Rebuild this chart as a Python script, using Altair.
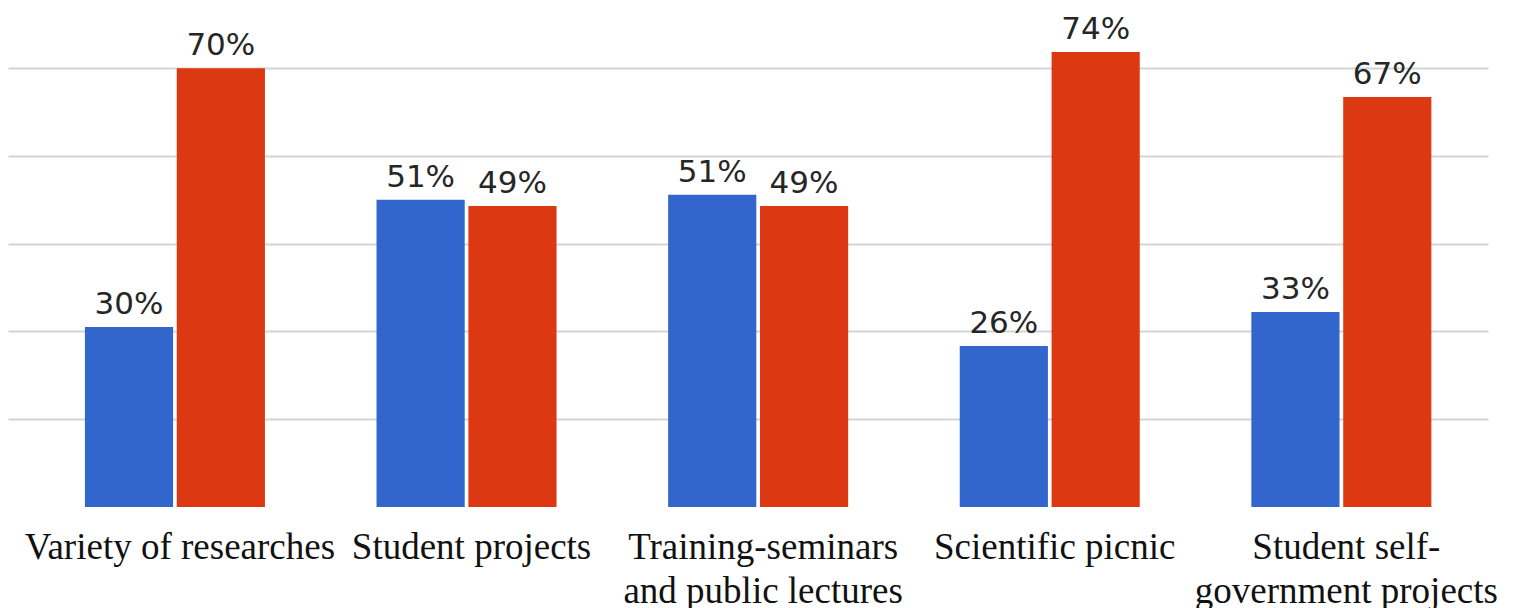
import altair as alt
import pandas as pd

categories = [
    "Variety of researches",
    "Student projects",
    "Training-seminars\nand public lectures",
    "Scientific picnic",
    "Student self-\ngovernment projects",
]
series_names = ["Group 1", "Group 2"]
# bar heights (grid step = 14 units)
blue_values = [28.7, 49.0, 49.8, 25.7, 31.1]
red_values = [70.0, 48.0, 48.0, 72.6, 65.4]
blue_labels = ["30%", "51%", "51%", "26%", "33%"]
red_labels = ["70%", "49%", "49%", "74%", "67%"]
grid_values = [14, 28, 42, 56, 70]
y_max = 79.6
colors = ["#3366cc", "#dc3912"]

rows = []
for c, bv, rv, bl, rl in zip(categories, blue_values, red_values, blue_labels, red_labels):
    rows.append({"category": c, "series": series_names[0], "value": bv, "label": bl})
    rows.append({"category": c, "series": series_names[1], "value": rv, "label": rl})
df = pd.DataFrame(rows)

x_enc = alt.X(
    "category:N",
    sort=categories,
    scale=alt.Scale(paddingInner=0.3827, paddingOuter=0.229, align=0.576),
    axis=alt.Axis(
        title=None,
        domain=False,
        ticks=False,
        tickSize=0,
        labelAngle=0,
        labelFont="Liberation Serif",
        labelFontSize=37,
        labelColor="#111111",
        labelPadding=51,
        labelBaseline="alphabetic",
        labelLineHeight=44,
        labelOffset=5,
        labelLimit=0,
        labelOverlap=False,
        labelBound=False,
        labelExpr="split(datum.label, '\\n')",
    ),
)
y_enc = alt.Y(
    "value:Q",
    scale=alt.Scale(domain=[0, y_max], nice=False, zero=True),
    axis=alt.Axis(
        title=None,
        domain=False,
        ticks=False,
        labels=False,
        grid=True,
        values=grid_values,
        gridColor="#d4d4d4",
        gridWidth=2,
    ),
)
xoff = alt.XOffset("series:N", sort=series_names, scale=alt.Scale(paddingInner=0.04))

base = alt.Chart(df)
bars = base.mark_bar().encode(
    x=x_enc,
    xOffset=xoff,
    y=y_enc,
    color=alt.Color("series:N", scale=alt.Scale(domain=series_names, range=colors), legend=None),
)
texts = base.mark_text(
    font="DejaVu Sans",
    fontSize=31,
    color="#262626",
    baseline="alphabetic",
    align="center",
    dy=-13,
).encode(
    x=alt.X("category:N", sort=categories),
    xOffset=xoff,
    y=alt.Y("value:Q"),
    text="label:N",
)

chart = (
    alt.layer(bars, texts)
    .properties(width=1480, height=499, background="white", padding=0)
    .configure_view(stroke=None)
)

chart.save("out.html", embed_options={"renderer": "svg", "actions": False})
